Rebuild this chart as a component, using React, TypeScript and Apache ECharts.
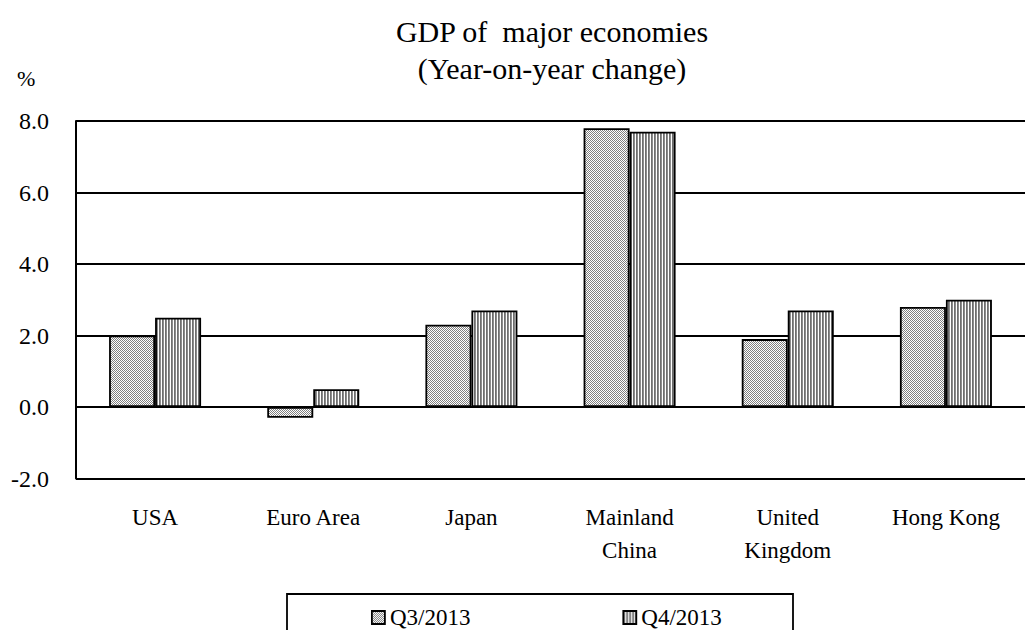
import React, { useEffect, useRef } from "react";
import * as echarts from "echarts";

const categories = ["USA", "Euro Area", "Japan", "Mainland\nChina", "United\nKingdom", "Hong Kong"];
const seriesNames = ["Q3/2013", "Q4/2013"];
const q3Values = [2.0, -0.3, 2.3, 7.8, 1.9, 2.8];
const q4Values = [2.5, 0.5, 2.7, 7.7, 2.7, 3.0];
const yTicks = { min: -2, max: 8, interval: 2 };

const FONT = "Liberation Serif";

function makePattern(kind: "dots" | "stripes") {
  const c = document.createElement("canvas");
  if (kind === "dots") {
    c.width = 2;
    c.height = 2;
    const ctx = c.getContext("2d")!;
    ctx.fillStyle = "#ffffff";
    ctx.fillRect(0, 0, 2, 2);
    ctx.fillStyle = "#808080";
    ctx.fillRect(0, 0, 1, 1);
    ctx.fillRect(1, 1, 1, 1);
  } else {
    c.width = 3;
    c.height = 3;
    const ctx = c.getContext("2d")!;
    ctx.fillStyle = "#ffffff";
    ctx.fillRect(0, 0, 3, 3);
    ctx.fillStyle = "#6e6e6e";
    ctx.fillRect(0, 0, 1, 3);
    ctx.fillStyle = "#8c8c8c";
    ctx.fillRect(1, 0, 1, 3);
  }
  return { image: c, repeat: "repeat", imageWidth: c.width, imageHeight: c.height } as any;
}

export default function App() {
  const ref = useRef<HTMLDivElement>(null);
  useEffect(() => {
    document.body.style.margin = "0";
    if (!ref.current) return;
    const chart = echarts.init(ref.current, null, { renderer: "svg" });
    const p3 = makePattern("dots");
    const p4 = makePattern("stripes");
    const barStyle = (pat: any) => ({ color: pat, borderColor: "#000", borderWidth: 1.8 });
    chart.setOption({
      animation: false,
      backgroundColor: "#ffffff",
      textStyle: { fontFamily: FONT, color: "#000" },
      title: {
        text: "GDP of  major economies\n(Year-on-year change)",
        left: 547,
        textAlign: "center",
        top: 8,
        textStyle: { fontFamily: FONT, fontSize: 30, fontWeight: "normal", color: "#000", lineHeight: 37 },
      },
      graphic: [
        {
          type: "text",
          left: 17,
          top: 67,
          style: { text: "%", fontFamily: FONT, fontSize: 22, fill: "#000" },
        },
        {
          type: "rect",
          shape: { x: 287, y: 594, width: 506, height: 80 },
          style: { fill: "none", stroke: "#000", lineWidth: 1.8 },
          silent: true,
        },
      ],
      legend: {
        data: [
          { name: seriesNames[0], itemStyle: barStyle(p3) },
          { name: seriesNames[1], itemStyle: barStyle(p4) },
        ],
        left: 366,
        top: 601,
        itemGap: 152,
        itemWidth: 13,
        itemHeight: 13,
        icon: "rect",
        textStyle: { fontFamily: FONT, fontSize: 23, color: "#000" },
      },
      grid: { left: 76, top: 121, width: 956, height: 357.5, containLabel: false },
      xAxis: {
        type: "category",
        data: categories,
        axisLine: { show: false, onZero: false },
        axisTick: { show: false },
        axisLabel: {
          margin: 22,
          fontFamily: FONT,
          fontSize: 23,
          lineHeight: 33,
          color: "#000",
          interval: 0,
        },
        splitLine: { show: false },
      },
      yAxis: {
        type: "value",
        min: yTicks.min,
        max: yTicks.max,
        interval: yTicks.interval,
        axisLine: { show: true, lineStyle: { color: "#000", width: 2 } },
        axisTick: { show: false },
        axisLabel: {
          margin: 27,
          fontFamily: FONT,
          fontSize: 24,
          color: "#000",
          formatter: (v: number) => v.toFixed(1),
        },
        splitLine: { show: true, lineStyle: { color: "#000", width: 1.8 } },
      },
      series: [
        {
          name: seriesNames[0],
          type: "bar",
          data: q3Values,
          barWidth: 46,
          barGap: "0%",
          itemStyle: barStyle(p3),
        },
        {
          name: seriesNames[1],
          type: "bar",
          data: q4Values,
          barWidth: 46,
          barGap: "0%",
          itemStyle: barStyle(p4),
        },
      ],
    });
    return () => chart.dispose();
  }, []);
  return <div ref={ref} style={{ width: 1025, height: 630 }} />;
}
